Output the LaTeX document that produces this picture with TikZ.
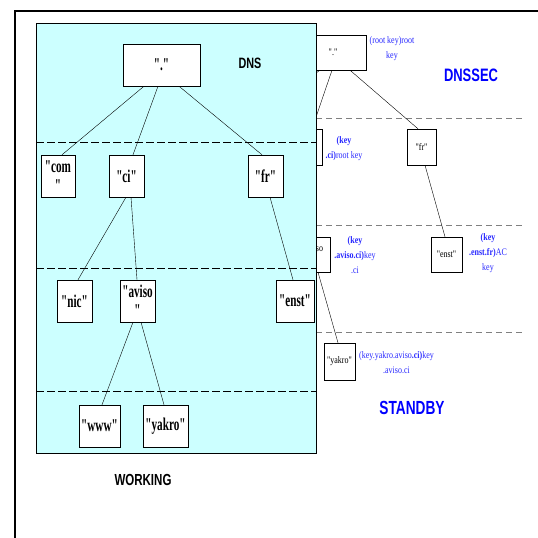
\documentclass[tikz,border=0pt]{standalone}
\usepackage{fontspec}
\setmainfont{Liberation Serif}
\newfontfamily\treefont[FakeStretch=0.62]{Liberation Serif}
\newfontfamily\keyfont[FakeStretch=0.8]{Liberation Serif}
\newfontfamily\headfont[FakeStretch=0.72]{Liberation Sans}
\definecolor{zonecyan}{RGB}{204,255,255}
\definecolor{keyblue}{RGB}{40,40,255}

\begin{document}
\begin{tikzpicture}[x=1pt, y=-1pt,
  dom/.style={draw, fill=white, inner sep=0pt, minimum height=42pt, align=center,
    font=\treefont\bfseries\fontsize{18}{19}\selectfont},
  sdom/.style={draw, fill=white, inner sep=0pt, align=center,
    font=\keyfont\fontsize{10}{12}\selectfont},
  keylbl/.style={text=keyblue, align=center, inner sep=0pt,
    font=\keyfont\fontsize{10}{15}\selectfont},
  zone/.style={dash pattern=on 8pt off 3pt},
  band/.style={gray, line width=1pt, dash pattern=on 6pt off 4pt},
  title/.style={inner sep=0pt, font=\headfont\bfseries\fontsize{#1}{#1}\selectfont}]

\useasboundingbox (0,0) rectangle (538,538);

% Outer frame
\draw[line width=1.8pt] (15,538) -- (15,11) -- (538,11);

% DNSSEC side (standby copy)
\draw[band] (316,118) -- (523,118);
\draw[band] (316,225) -- (523,225);
\draw[band] (316,332) -- (523,332);

\node[sdom, minimum width=66pt, minimum height=35pt] (sroot) at (333,52.5) {"."};
\node[sdom, minimum width=32pt, minimum height=36pt] (sci) at (306,147) {"ci"};
\node[sdom, minimum width=29pt, minimum height=36pt] (sfr) at (421.5,147) {"fr"};
\node[sdom, minimum width=34pt, minimum height=35pt] (saviso) at (313,254.5) {"aviso\\"};
\node[sdom, minimum width=31pt, minimum height=35pt] (senst) at (446.5,254.5) {"enst"};
\node[sdom, minimum width=31pt, minimum height=37pt] (syakro) at (339.5,361.5) {"yakro"};
\coordinate (scom) at (236,129);

\draw ([xshift=-13pt]sroot.south) -- (scom);
\draw ([xshift=-1pt]sroot.south) -- ([xshift=6pt]sci.north);
\draw ([xshift=17pt]sroot.south) -- ([xshift=-3.5pt]sfr.north);
\draw ([xshift=-1pt]sci.south) -- ([xshift=-3pt]saviso.north);
\draw ([xshift=3.5pt]sfr.south) -- ([xshift=-1.5pt]senst.north);
\draw ([xshift=5pt]saviso.south) -- ([xshift=-1.5pt]syakro.north);

% key labels
\node[keylbl] (krootkey) at (392,49) {(root key)root\\key};
\node[keylbl] (kcikey) at (344,148.5) {\textbf{(key}\\\textbf{.ci)}root key};
\node[keylbl] (kavisokey) at (355,255.5) {\textbf{(key}\\\textbf{.aviso.ci)}key\\.ci};
\node[keylbl] (kenstkey) at (488,253) {\textbf{(key}\\\textbf{.enst.fr)}AC\\key};
\node[keylbl] (kyakrokey) at (396.5,362.5) {(key.yakro.aviso\textbf{.ci)}key\\.aviso.ci};

\node[title=18, text=blue] (dnssec) at (471,75) {DNSSEC};
\node[title=19, text=blue] (standby) at (412,408) {STANDBY};

% DNS side (working zone)
\fill[zonecyan] (36,23) rectangle (316,453);
\draw[zone] (36,142) -- (316,142);
\draw[zone] (36,268) -- (316,268);
\draw[zone] (36,391) -- (316,391);
\draw (36,23) rectangle (316,453);

\node[dom, minimum width=77pt] (root) at (161.5,65) {"."};
\node[dom, minimum width=34pt] (com) at (58,176) {"com\\"};
\node[dom, minimum width=35pt] (ci) at (126.5,176) {"ci"};
\node[dom, minimum width=35pt] (fr) at (265.5,176) {"fr"};
\node[dom, minimum width=35pt] (nic) at (74.5,301) {"nic"};
\node[dom, minimum width=35pt] (aviso) at (137.5,301) {"aviso\\"};
\node[dom, minimum width=38pt] (enst) at (295,301) {"enst"};
\node[dom, minimum width=41pt] (www) at (99.5,426) {"www"};
\node[dom, minimum width=45pt] (yakro) at (165.5,426) {"yakro"};

\draw ([xshift=-17.5pt]root.south) -- ([xshift=4pt]com.north);
\draw ([xshift=-3.5pt]root.south) -- ([xshift=6.5pt]ci.north);
\draw ([xshift=17.5pt]root.south) -- ([xshift=-3.5pt]fr.north);
\draw ([xshift=-0.5pt]ci.south) -- ([xshift=3.5pt]nic.north);
\draw ([xshift=4.5pt]ci.south) -- ([xshift=-0.5pt]aviso.north);
\draw ([xshift=4.5pt]fr.south) -- ([xshift=-2pt]enst.north);
\draw ([xshift=-4.5pt]aviso.south) -- ([xshift=2.5pt]www.north);
\draw ([xshift=3.5pt]aviso.south) -- ([xshift=-1.5pt]yakro.north);

\node[title=15] (dns) at (250,63) {DNS};
\node[title=16] (working) at (143,480) {WORKING};

\end{tikzpicture}
\end{document}
